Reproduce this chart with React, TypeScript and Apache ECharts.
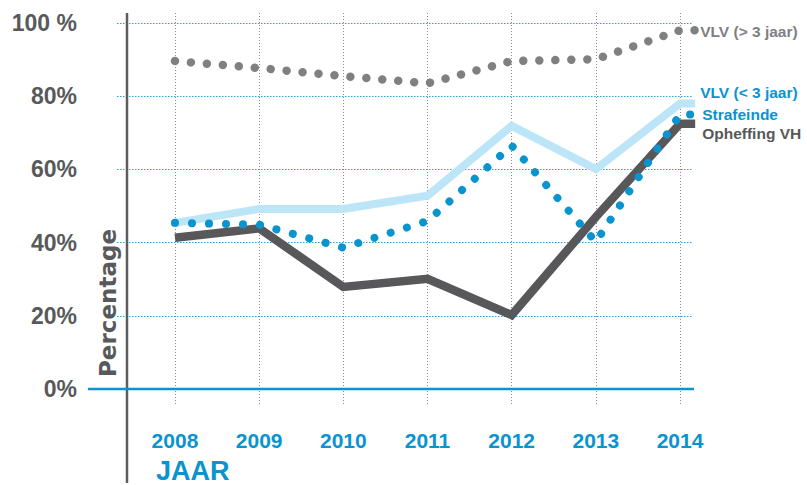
import React, { useEffect, useRef } from "react";
import * as echarts from "echarts";

const years = [2008, 2009, 2010, 2011, 2012, 2013, 2014];
const tailYear = 2014.18;
const vlvLong = [89.6, 87.7, 85.5, 83.5, 89.6, 90.1, 98.0];
const vlvShort = [45.4, 49.2, 49.2, 52.8, 71.9, 60.1, 78.0];
const strafeinde = [45.4, 44.9, 38.6, 45.9, 66.5, 40.2, 75.0];
const opheffing = [41.3, 43.9, 27.9, 30.1, 20.2, 47.0, 72.5];
const seriesNames = ["VLV (> 3 jaar)", "VLV (< 3 jaar)", "Strafeinde", "Opheffing VH"];

const FONT = "'Liberation Sans', Arial, Helvetica, sans-serif";
const BLUE = "#0a94cf";
const DARK = "#58585a";
const GREY = "#808083";
const LIGHT = "#bde5f8";

function toData(vals: number[]) {
  const pts: [number, number][] = years.map((y, i) => [y, vals[i]]);
  pts.push([tailYear, vals[vals.length - 1]]);
  return pts;
}

export default function App() {
  const ref = useRef<HTMLDivElement>(null);
  useEffect(() => {
    if (!ref.current) return;
    const chart = echarts.init(ref.current, null, { renderer: "svg" });
    const labelBase = { show: true, fontSize: 15.5, fontWeight: "bold", fontFamily: FONT, distance: 5 } as any;
    chart.setOption({
      animation: false,
      backgroundColor: "#ffffff",
      grid: [
        { left: 117, right: 114, top: 23, bottom: 96 },
        { left: 90.8, right: 42.8, top: 13, bottom: 80 },
      ],
      xAxis: [
        { gridIndex: 0, type: "value", min: 0, max: 1, show: false },
        {
          gridIndex: 1,
          type: "value",
          min: 2007,
          max: 2015,
          interval: 1,
          axisLine: { show: false },
          axisTick: { show: false },
          axisLabel: {
            showMinLabel: false,
            showMaxLabel: false,
            formatter: (v: number) => (years.includes(v) ? String(v) : ""),
            fontSize: 21,
            fontWeight: "bold",
            fontFamily: FONT,
            color: BLUE,
            margin: 25,
          },
          splitLine: {
            show: true,
            showMinLine: false,
            showMaxLine: false,
            lineStyle: { color: "#8a8a8a", width: 1, type: [1, 2] },
          },
        },
      ],
      yAxis: [
        {
          gridIndex: 0,
          type: "value",
          min: 0,
          max: 100,
          interval: 20,
          axisLine: { show: false },
          axisTick: { show: false },
          axisLabel: {
            formatter: (v: number) => (v === 100 ? "100 %" : v + "%"),
            fontSize: 23,
            fontWeight: "bold",
            fontFamily: FONT,
            color: "#58595b",
            margin: 40,
          },
          splitLine: { show: true, lineStyle: { color: "#2aa2d8", width: 1, type: [1.5, 1.5] } },
        },
        { gridIndex: 1, type: "value", min: -4.372, max: 102.732, show: false },
      ],
      graphic: [
        { type: "line", z: 1, shape: { x1: 127, y1: 13, x2: 127, y2: 483 }, style: { stroke: "#5d5d5f", lineWidth: 2.5 } },
        { type: "line", z: 1, shape: { x1: 88, y1: 389, x2: 694, y2: 389 }, style: { stroke: BLUE, lineWidth: 2.5 } },
        {
          type: "text",
          x: 108,
          y: 303,
          rotation: Math.PI / 2,
          style: {
            text: "Percentage",
            fill: "#58595b",
            font: "bold 23px 'DejaVu Sans', sans-serif",
            align: "center",
            verticalAlign: "middle",
          },
        },
        {
          type: "text",
          x: 156,
          y: 471,
          style: {
            text: "JAAR",
            fill: BLUE,
            font: "bold 27px " + FONT,
            align: "left",
            verticalAlign: "middle",
          },
        },
      ],
      series: [
        {
          name: seriesNames[1],
          type: "line",
          xAxisIndex: 1,
          yAxisIndex: 1,
          data: toData(vlvShort),
          symbol: "none",
          lineStyle: { color: LIGHT, width: 8, join: "miter" },
          endLabel: { ...labelBase, formatter: "{a}", color: BLUE, offset: [0, -11.5] },
          z: 2,
        },
        {
          name: seriesNames[3],
          type: "line",
          xAxisIndex: 1,
          yAxisIndex: 1,
          data: toData(opheffing),
          symbol: "none",
          lineStyle: { color: DARK, width: 8.5, join: "miter" },
          endLabel: { ...labelBase, formatter: "{a}", color: DARK, offset: [2, 9.5] },
          z: 3,
        },
        {
          name: seriesNames[2],
          type: "line",
          xAxisIndex: 1,
          yAxisIndex: 1,
          data: toData(strafeinde),
          symbol: "none",
          lineStyle: { color: BLUE, width: 8, type: [0.01, 17], cap: "round" },
          endLabel: { ...labelBase, formatter: "{a}", color: BLUE, offset: [2, 0] },
          z: 4,
        },
        {
          name: seriesNames[0],
          type: "line",
          xAxisIndex: 1,
          yAxisIndex: 1,
          data: toData(vlvLong),
          symbol: "none",
          lineStyle: { color: GREY, width: 8.5, type: [0.01, 16], cap: "round" },
          endLabel: { ...labelBase, formatter: "{a}", color: GREY, offset: [0, 1.5] },
          z: 5,
        },
      ],
    });
    return () => chart.dispose();
  }, []);
  return <div ref={ref} style={{ position: "fixed", left: 0, top: 0, width: 807, height: 485 }} />;
}
